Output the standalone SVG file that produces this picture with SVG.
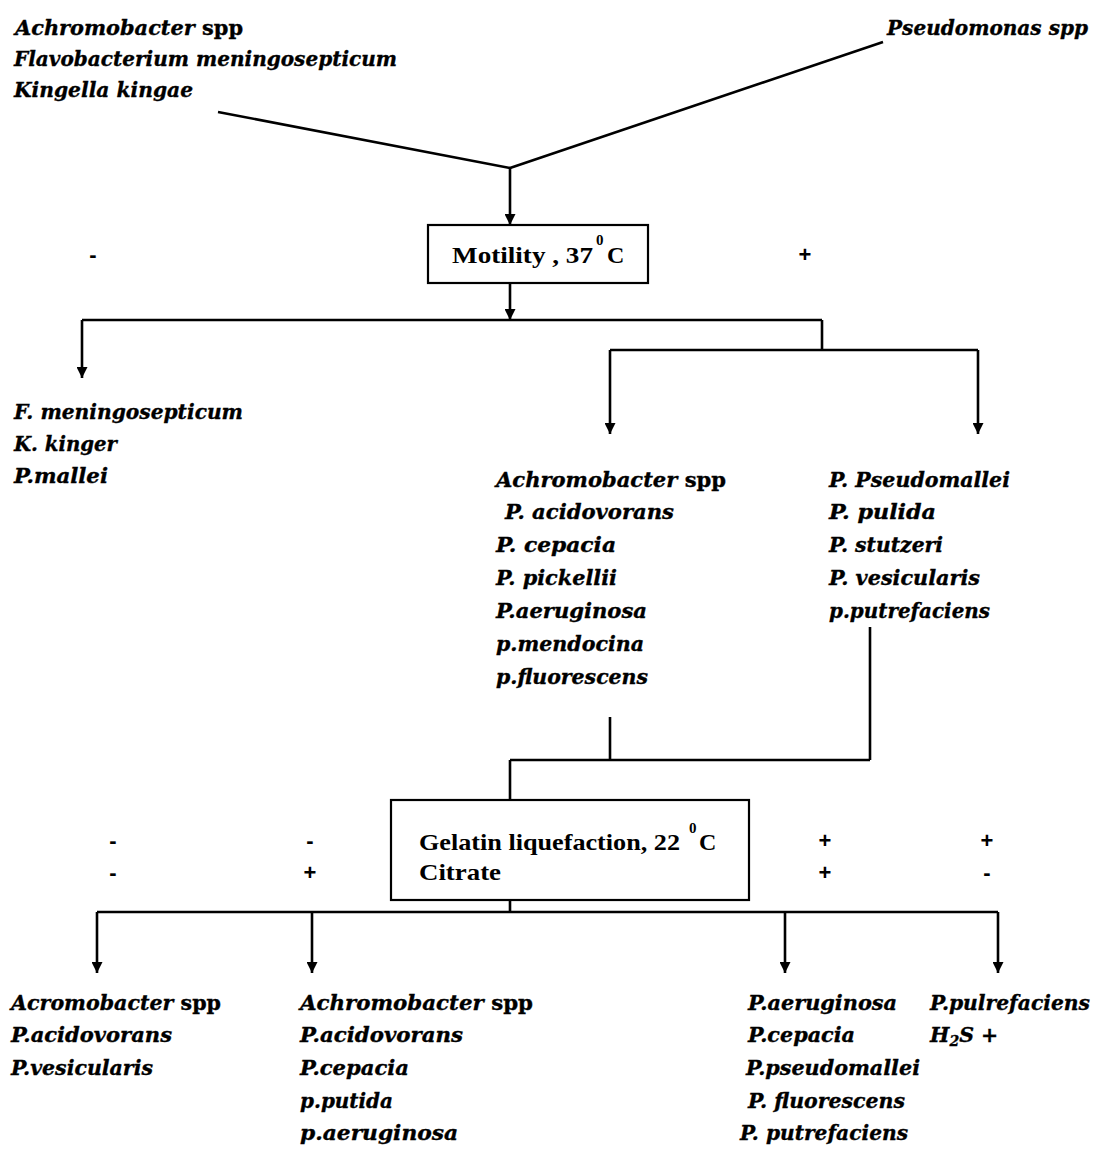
<svg xmlns="http://www.w3.org/2000/svg" width="1095" height="1149" viewBox="0 0 1095 1149">
<style>
.sp{font-family:"DejaVu Serif","Liberation Serif",serif;font-weight:bold;font-style:italic;font-size:20.5px;fill:#000;stroke:#000;stroke-width:0.35}
.up{font-style:normal}
.bx{font-family:"Liberation Serif","Times New Roman",serif;font-weight:bold;font-size:24px;fill:#000}
.sup{font-family:"Liberation Serif","Times New Roman",serif;font-weight:bold;font-size:15px;fill:#000}
.sg{font-family:"Liberation Sans",Arial,sans-serif;font-weight:bold;font-size:22px;fill:#000;text-anchor:middle}
.ln{stroke:#000;stroke-width:2.6;fill:none}
.box{stroke:#000;stroke-width:2.2;fill:#fff}
</style>
<defs>
<marker id="ah" viewBox="0 0 10 10" refX="10" refY="5" markerWidth="11" markerHeight="11" markerUnits="userSpaceOnUse" orient="auto">
<path d="M0,0 L10,5 L0,10 z" fill="#000"/>
</marker>
</defs>
<rect width="1095" height="1149" fill="#fff"/>

<g id="connectors">
<line class="ln" x1="218" y1="112" x2="510" y2="168"/>
<line class="ln" x1="883" y1="42" x2="510" y2="168"/>
<line class="ln" x1="510" y1="168" x2="510" y2="225" marker-end="url(#ah)"/>
<line class="ln" x1="510" y1="283" x2="510" y2="320" marker-end="url(#ah)"/>
<line class="ln" x1="82" y1="320" x2="822" y2="320"/>
<line class="ln" x1="82" y1="320" x2="82" y2="378" marker-end="url(#ah)"/>
<line class="ln" x1="822" y1="320" x2="822" y2="350"/>
<line class="ln" x1="610" y1="350" x2="978" y2="350"/>
<line class="ln" x1="610" y1="350" x2="610" y2="434" marker-end="url(#ah)"/>
<line class="ln" x1="978" y1="350" x2="978" y2="434" marker-end="url(#ah)"/>
<line class="ln" x1="610" y1="717" x2="610" y2="760"/>
<line class="ln" x1="870" y1="627" x2="870" y2="760"/>
<line class="ln" x1="510" y1="760" x2="870" y2="760"/>
<line class="ln" x1="510" y1="760" x2="510" y2="800"/>
<line class="ln" x1="510" y1="900" x2="510" y2="912"/>
<line class="ln" x1="97" y1="912" x2="998" y2="912"/>
<line class="ln" x1="97" y1="912" x2="97" y2="973" marker-end="url(#ah)"/>
<line class="ln" x1="312" y1="912" x2="312" y2="973" marker-end="url(#ah)"/>
<line class="ln" x1="785" y1="912" x2="785" y2="973" marker-end="url(#ah)"/>
<line class="ln" x1="998" y1="912" x2="998" y2="973" marker-end="url(#ah)"/>
</g>

<g id="start-left">
<text class="sp" x="15" y="35" textLength="228" lengthAdjust="spacingAndGlyphs">Achromobacter  <tspan class="up">spp</tspan></text>
<text class="sp" x="14" y="66" textLength="383" lengthAdjust="spacingAndGlyphs">Flavobacterium meningosepticum</text>
<text class="sp" x="14" y="97" textLength="179" lengthAdjust="spacingAndGlyphs">Kingella kingae</text>
</g>

<g id="start-right">
<text class="sp" x="887" y="35" textLength="201" lengthAdjust="spacingAndGlyphs">Pseudomonas spp</text>
</g>

<g id="motility">
<rect class="box" x="428" y="225" width="220" height="58"/>
<text class="bx" x="452" y="263" textLength="141" lengthAdjust="spacingAndGlyphs">Motility , 37</text>
<text class="sup" x="596" y="245">0</text>
<text class="bx" x="607" y="263">C</text>
<text class="sg" x="93" y="262">-</text>
<text class="sg" x="805" y="262">+</text>
</g>

<g id="motility-neg">
<text class="sp" x="14" y="419" textLength="229" lengthAdjust="spacingAndGlyphs">F. meningosepticum</text>
<text class="sp" x="14" y="451" textLength="103" lengthAdjust="spacingAndGlyphs">K. kinger</text>
<text class="sp" x="14" y="483" textLength="94" lengthAdjust="spacingAndGlyphs">P.mallei</text>
</g>

<g id="motility-pos-a">
<text class="sp" x="496" y="487" textLength="230" lengthAdjust="spacingAndGlyphs">Achromobacter <tspan class="up">spp</tspan></text>
<text class="sp" x="505" y="519" textLength="169" lengthAdjust="spacingAndGlyphs">P. acidovorans</text>
<text class="sp" x="496" y="552" textLength="120" lengthAdjust="spacingAndGlyphs">P. cepacia</text>
<text class="sp" x="496" y="585" textLength="121" lengthAdjust="spacingAndGlyphs">P. pickellii</text>
<text class="sp" x="496" y="618" textLength="151" lengthAdjust="spacingAndGlyphs">P.aeruginosa</text>
<text class="sp" x="496" y="651" textLength="148" lengthAdjust="spacingAndGlyphs">p.mendocina</text>
<text class="sp" x="496" y="684" textLength="152" lengthAdjust="spacingAndGlyphs">p.fluorescens</text>
</g>

<g id="motility-pos-b">
<text class="sp" x="829" y="487" textLength="181" lengthAdjust="spacingAndGlyphs">P. Pseudomallei</text>
<text class="sp" x="829" y="519" textLength="107" lengthAdjust="spacingAndGlyphs">P. pulida</text>
<text class="sp" x="829" y="552" textLength="114" lengthAdjust="spacingAndGlyphs">P. stutzeri</text>
<text class="sp" x="829" y="585" textLength="151" lengthAdjust="spacingAndGlyphs">P. vesicularis</text>
<text class="sp" x="829" y="618" textLength="161" lengthAdjust="spacingAndGlyphs">p.putrefaciens</text>
</g>

<g id="gelatin">
<rect class="box" x="391" y="800" width="358" height="100"/>
<text class="bx" x="419" y="850" textLength="261" lengthAdjust="spacingAndGlyphs">Gelatin liquefaction, 22</text>
<text class="sup" x="689" y="833">0</text>
<text class="bx" x="699" y="850">C</text>
<text class="bx" x="419" y="880" textLength="82" lengthAdjust="spacingAndGlyphs">Citrate</text>
<text class="sg" x="113" y="848">-</text>
<text class="sg" x="310" y="848">-</text>
<text class="sg" x="825" y="848">+</text>
<text class="sg" x="987" y="848">+</text>
<text class="sg" x="113" y="880">-</text>
<text class="sg" x="310" y="880">+</text>
<text class="sg" x="825" y="880">+</text>
<text class="sg" x="987" y="880">-</text>
</g>

<g id="result-1">
<text class="sp" x="11" y="1010" textLength="210" lengthAdjust="spacingAndGlyphs">Acromobacter <tspan class="up">spp</tspan></text>
<text class="sp" x="11" y="1042" textLength="161" lengthAdjust="spacingAndGlyphs">P.acidovorans</text>
<text class="sp" x="11" y="1075" textLength="142" lengthAdjust="spacingAndGlyphs">P.vesicularis</text>
</g>

<g id="result-2">
<text class="sp" x="300" y="1010" textLength="233" lengthAdjust="spacingAndGlyphs">Achromobacter <tspan class="up">spp</tspan></text>
<text class="sp" x="300" y="1042" textLength="163" lengthAdjust="spacingAndGlyphs">P.acidovorans</text>
<text class="sp" x="300" y="1075" textLength="109" lengthAdjust="spacingAndGlyphs">P.cepacia</text>
<text class="sp" x="300" y="1108" textLength="93" lengthAdjust="spacingAndGlyphs">p.putida</text>
<text class="sp" x="300" y="1140" textLength="158" lengthAdjust="spacingAndGlyphs">p.aeruginosa</text>
</g>

<g id="result-3">
<text class="sp" x="748" y="1010" textLength="149" lengthAdjust="spacingAndGlyphs">P.aeruginosa</text>
<text class="sp" x="748" y="1042" textLength="107" lengthAdjust="spacingAndGlyphs">P.cepacia</text>
<text class="sp" x="746" y="1075" textLength="174" lengthAdjust="spacingAndGlyphs">P.pseudomallei</text>
<text class="sp" x="748" y="1108" textLength="157" lengthAdjust="spacingAndGlyphs">P. fluorescens</text>
<text class="sp" x="740" y="1140" textLength="168" lengthAdjust="spacingAndGlyphs">P. putrefaciens</text>
</g>

<g id="result-4">
<text class="sp" x="930" y="1010" textLength="160" lengthAdjust="spacingAndGlyphs">P.pulrefaciens</text>
<text class="sp" x="930" y="1042">H<tspan font-size="14" dy="4">2</tspan><tspan dy="-4">S +</tspan></text>
</g>
</svg>
